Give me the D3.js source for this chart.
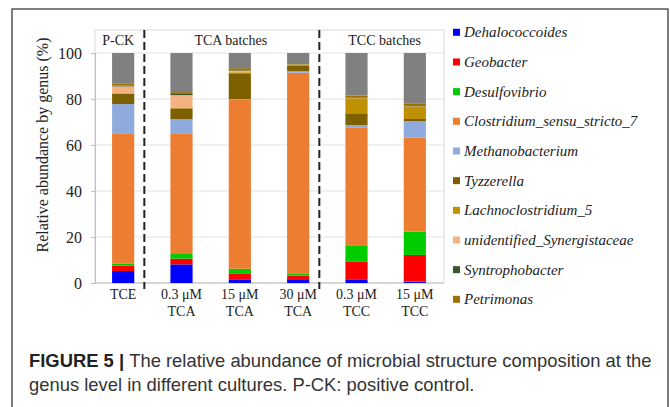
<!DOCTYPE html>
<html>
<head>
<meta charset="utf-8">
<script src="https://cdn.jsdelivr.net/npm/d3@7"></script>
<style>
  body { margin: 0; background: #fff; }
  svg { display: block; }
  .serif { font-family: "Liberation Serif", Tinos, "Times New Roman", "DejaVu Serif", serif; }
  .sans { font-family: "Liberation Sans", Arimo, Arial, sans-serif; }
</style>
</head>
<body>
<svg id="chart" width="670" height="407"></svg>
<script>
// cultures, two label lines each
var cultures = ["TCE", "0.3 TCA", "15 TCA", "30 TCA", "0.3 TCC", "15 TCC"];
var labelTop = ["TCE", "0.3 μM", "15 μM", "30 μM", "0.3 μM", "15 μM"];
var labelBottom = ["", "TCA", "TCA", "TCA", "TCC", "TCC"];

var genera = ["Dehalococcoides", "Geobacter", "Desulfovibrio", "Clostridium_sensu_stricto_7",
  "Methanobacterium", "Tyzzerella", "Lachnoclostridium_5", "unidentified_Synergistaceae",
  "Syntrophobacter", "Petrimonas", "Others"];
var colors = ["#0000ff", "#ff0000", "#00cc00", "#ed7d31", "#8faadc", "#7f6000",
  "#bf9000", "#f4b183", "#385723", "#9c7300", "#808080"];

// relative abundance (%) per culture, same order as cultures
var dehalococcoides = [5.2, 8.1, 1.6, 1.3, 1.6, 0.6];
var geobacter = [2.3, 2.5, 2.6, 1.9, 7.8, 11.6];
var desulfovibrio = [1.0, 2.0, 2.0, 1.0, 7.0, 10.1];
var clostridium = [56.6, 52.5, 73.4, 87.2, 51.3, 40.9];
var methanobacterium = [12.7, 6.2, 0.3, 0.7, 1.0, 7.2];
var tyzzerella = [4.4, 4.6, 11.3, 2.3, 5.1, 0.9];
var lachnoclostridium = [0.3, 0.4, 0.4, 0.5, 6.5, 5.4];
var synergistaceae = [3.0, 5.4, 0.6, 0.1, 0.1, 0.1];
var syntrophobacter = [0.3, 0.8, 0.2, 0.1, 0.1, 0.1];
var petrimonas = [0.8, 0.5, 1.0, 0.5, 1.0, 1.0];
var others = [13.4, 17.0, 6.6, 4.4, 18.5, 22.1];

var series = [dehalococcoides, geobacter, desulfovibrio, clostridium, methanobacterium,
  tyzzerella, lachnoclostridium, synergistaceae, syntrophobacter, petrimonas, others];

var yTicks = [0, 20, 40, 60, 80, 100];
var groups = [
  { name: "P-CK", from: 0, to: 0 },
  { name: "TCA batches", from: 1, to: 3 },
  { name: "TCC batches", from: 4, to: 5 }
];

var table = cultures.map(function(c, i) {
  var row = { culture: c };
  genera.forEach(function(g, j) { row[g] = series[j][i]; });
  return row;
});

var svg = d3.select("#chart");

var x = d3.scaleBand().domain(cultures).range([94, 444]).paddingInner(0.62).paddingOuter(0.31);
var y = d3.scaleLinear().domain([0, 100]).range([283, 53]);
var plotTop = 30;

// outer figure border
svg.append("rect")
  .attr("x", 12).attr("y", 9)
  .attr("width", 656).attr("height", 410)
  .attr("fill", "none").attr("stroke", "#555").attr("stroke-width", 1.5);

// plot frame + grid
svg.append("rect")
  .attr("x", 95).attr("y", plotTop)
  .attr("width", 349).attr("height", y(0) - plotTop)
  .attr("fill", "none").attr("stroke", "#d9d9d9");

svg.append("g").selectAll("line")
  .data(yTicks.slice(1))
  .enter().append("line")
  .attr("x1", 95).attr("x2", 444)
  .attr("y1", function(d) { return y(d); })
  .attr("y2", function(d) { return y(d); })
  .attr("stroke", "#e3e3e3");

var yAxis = svg.append("g")
  .attr("transform", "translate(95,0)")
  .call(d3.axisLeft(y).tickValues(yTicks).tickSize(4).tickPadding(9));
yAxis.select(".domain").attr("stroke", "#bfbfbf");
yAxis.selectAll(".tick line").attr("stroke", "#bfbfbf");
yAxis.attr("font-family", null);
yAxis.selectAll("text")
  .attr("class", "serif").attr("font-size", 16).attr("fill", "#222");

svg.append("line")
  .attr("x1", 95).attr("x2", 444)
  .attr("y1", y(0)).attr("y2", y(0))
  .attr("stroke", "#bfbfbf");

svg.append("text")
  .attr("class", "serif")
  .attr("transform", "translate(48,145) rotate(-90)")
  .attr("text-anchor", "middle")
  .attr("font-size", 16).attr("fill", "#222")
  .text("Relative abundance by genus (%)");

// stacked bars
var stack = d3.stack().keys(genera);
var layers = stack(table);

svg.append("g").selectAll("g")
  .data(layers)
  .enter().append("g")
  .attr("fill", function(d, i) { return colors[i]; })
  .selectAll("rect")
  .data(function(d) { return d; })
  .enter().append("rect")
  .attr("x", function(d) { return x(d.data.culture); })
  .attr("y", function(d) { return y(d[1]); })
  .attr("width", x.bandwidth())
  .attr("height", function(d) { return y(d[0]) - y(d[1]); });

// group separators (dashed)
var seps = [0, 3].map(function(i) {
  return x(cultures[i]) + x.bandwidth() + (x.step() - x.bandwidth()) / 2 - 8;
});
svg.append("g").selectAll("line")
  .data(seps)
  .enter().append("line")
  .attr("x1", function(d) { return d; }).attr("x2", function(d) { return d; })
  .attr("y1", plotTop).attr("y2", y(0) + 6)
  .attr("stroke", "#222").attr("stroke-width", 2)
  .attr("stroke-dasharray", "8,4");

// group labels
svg.append("g").selectAll("text")
  .data(groups)
  .enter().append("text")
  .attr("class", "serif")
  .attr("x", function(d, i) {
    var a = x(cultures[d.from]), b = x(cultures[d.to]) + x.bandwidth();
    return i === 0 ? (a + b) / 2 - 5 : (a + b) / 2 - 9 + (i === 2 ? 8 : 0);
  })
  .attr("y", 45)
  .attr("text-anchor", "middle")
  .attr("font-size", 14).attr("fill", "#222")
  .text(function(d) { return d.name; });

// x labels
var xl = svg.append("g").selectAll("text")
  .data(cultures)
  .enter().append("text")
  .attr("class", "serif")
  .attr("text-anchor", "middle")
  .attr("font-size", 14).attr("fill", "#222");
xl.append("tspan")
  .attr("x", function(d) { return x(d) + x.bandwidth() / 2; })
  .attr("y", 299)
  .text(function(d, i) { return labelTop[i]; });
xl.append("tspan")
  .attr("x", function(d) { return x(d) + x.bandwidth() / 2; })
  .attr("y", 316)
  .text(function(d, i) { return labelBottom[i]; });

// legend (no entry for the grey remainder)
var legend = svg.append("g").selectAll("g")
  .data(genera.slice(0, 10))
  .enter().append("g")
  .attr("transform", function(d, i) { return "translate(453," + (32.3 + i * 29.67) + ")"; });
legend.append("rect")
  .attr("x", 0).attr("y", -3.5)
  .attr("width", 7).attr("height", 7)
  .attr("fill", function(d, i) { return colors[i]; });
legend.append("text")
  .attr("class", "serif")
  .attr("x", 11).attr("y", 5)
  .attr("font-size", 15).attr("font-style", "italic").attr("fill", "#222")
  .text(function(d) { return d; });

// caption
var cap = svg.append("g")
  .attr("class", "sans")
  .attr("font-size", 18.4).attr("fill", "#333");
var c1 = cap.append("text").attr("x", 29).attr("y", 367);
c1.append("tspan").attr("font-weight", "bold").attr("fill", "#222").text("FIGURE 5 | ");
c1.append("tspan").text("The relative abundance of microbial structure composition at the");
cap.append("text").attr("x", 29).attr("y", 391)
  .text("genus level in different cultures. P-CK: positive control.");
</script>
</body>
</html>
